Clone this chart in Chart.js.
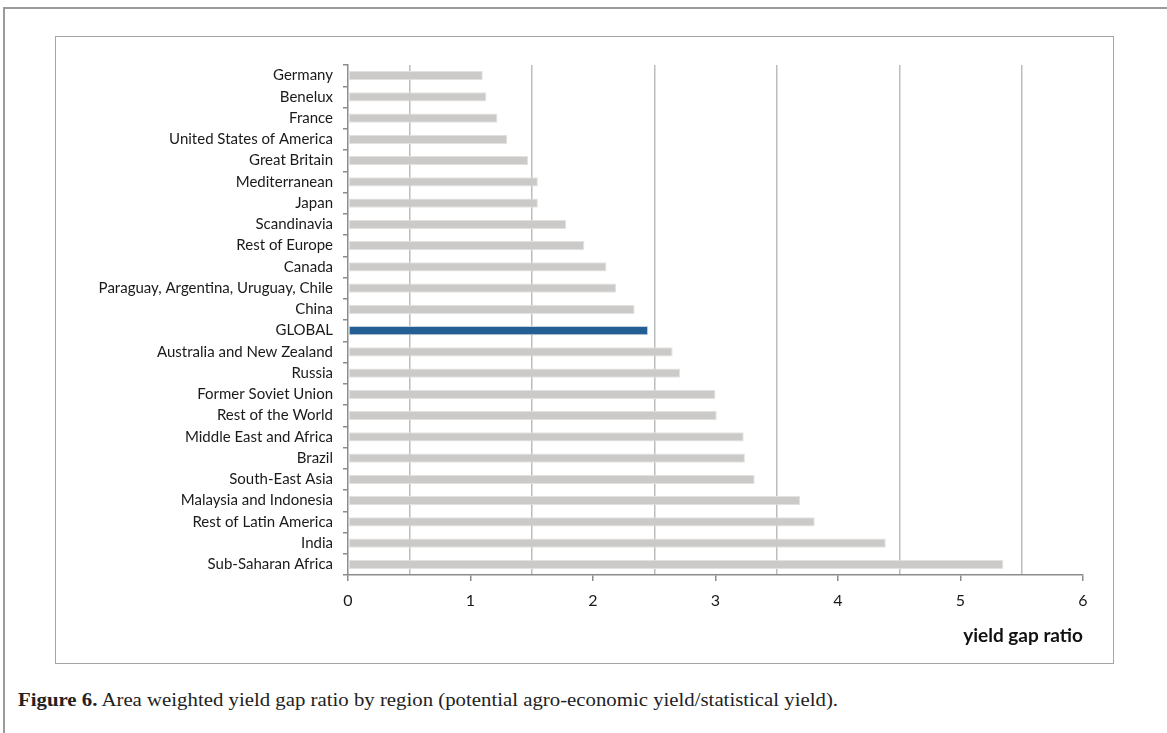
<!DOCTYPE html>
<html>
<head>
<meta charset="utf-8">
<script src="https://cdn.jsdelivr.net/npm/chart.js@4/dist/chart.umd.min.js"></script>
<style>
  body { margin: 0; width: 1167px; height: 733px; overflow: hidden; background: #fff; position: relative; }
  #page { position: absolute; left: 3px; top: 7px; width: 1300px; height: 900px; border-top: 2px solid #9a9a9a; border-left: 2px solid #9a9a9a; }
  #box { position: absolute; left: 55px; top: 36px; width: 1057px; height: 626px; border: 1.5px solid #a5a5a5; }
  #caption { position: absolute; left: 18px; top: 689px; font-family: "Liberation Serif", serif; font-size: 19px; color: #222;
             white-space: nowrap; transform: scaleX(1.095); transform-origin: left top; }
</style>
</head>
<body>
<div id="page"></div>
<div id="box"><canvas id="gapChart" width="1057" height="626"></canvas></div>
<div id="caption"><b>Figure 6.</b> Area weighted yield gap ratio by region (potential agro-economic yield/statistical yield).</div>
<script>
const regions = ["Germany", "Benelux", "France", "United States of America", "Great Britain",
  "Mediterranean", "Japan", "Scandinavia", "Rest of Europe", "Canada",
  "Paraguay, Argentina, Uruguay, Chile", "China", "GLOBAL", "Australia and New Zealand",
  "Russia", "Former Soviet Union", "Rest of the World", "Middle East and Africa", "Brazil",
  "South-East Asia", "Malaysia and Indonesia", "Rest of Latin America", "India", "Sub-Saharan Africa"];
const gapRatio = [1.10, 1.13, 1.22, 1.30, 1.47, 1.55, 1.55, 1.78, 1.93, 2.11,
  2.19, 2.34, 2.45, 2.65, 2.71, 3.00, 3.01, 3.23, 3.24, 3.32, 3.69, 3.81, 4.39, 5.35];
const xTicks = [0, 1, 2, 3, 4, 5, 6];

const isGlobal = regions.map(r => r === "GLOBAL");

new Chart("gapChart", {
  type: "bar",
  data: {
    labels: regions,
    datasets: [{
      data: gapRatio,
      backgroundColor: isGlobal.map(g => g ? "#235f95" : "#cbcac8"),
      borderColor: isGlobal.map(g => g ? "#c9d3dd" : "#e3e2e0"),
      borderWidth: 1,
      borderSkipped: false,
      barPercentage: 0.44,
      categoryPercentage: 1
    }]
  },
  options: {
    indexAxis: "y",
    responsive: false,
    animation: false,
    layout: { padding: { left: 0, right: 30, top: 28, bottom: 0 } },
    plugins: { legend: { display: false }, tooltip: { enabled: false } },
    scales: {
      x: {
        min: 0, max: 6,
        afterFit: s => { s.height = 88; },
        ticks: {
          stepSize: 0.5,
          autoSkip: false,
          maxRotation: 0,
          padding: 10,
          color: "#1a1a1a",
          font: { family: "Lato", size: 16 },
          callback: v => xTicks.includes(v) ? String(v) : ""
        },
        grid: {
          color: c => (c.tick && xTicks.includes(c.tick.value)) ? "rgba(0,0,0,0)" : "#bcbcbc",
          tickColor: c => (c.tick && xTicks.includes(c.tick.value)) ? "#8c8c8c" : "rgba(0,0,0,0)",
          lineWidth: 1.5,
          tickLength: 6
        },
        border: { color: "#8c8c8c", width: 1.5 },
        title: {
          display: true,
          text: "yield gap ratio",
          align: "end",
          color: "#111",
          font: { family: "Lato", size: 19, weight: "bold" },
          padding: { top: 0, bottom: 16 }
        }
      },
      y: {
        afterFit: s => { s.width = 292; },
        ticks: {
          autoSkip: false,
          padding: 10,
          color: "#1a1a1a",
          font: { family: "Lato", size: 15 }
        },
        grid: {
          offset: true,
          drawOnChartArea: false,
          tickColor: "#8c8c8c",
          lineWidth: 1.5,
          tickLength: 5
        },
        border: { color: "#8c8c8c", width: 1.5 }
      }
    }
  }
});
</script>
</body>
</html>
